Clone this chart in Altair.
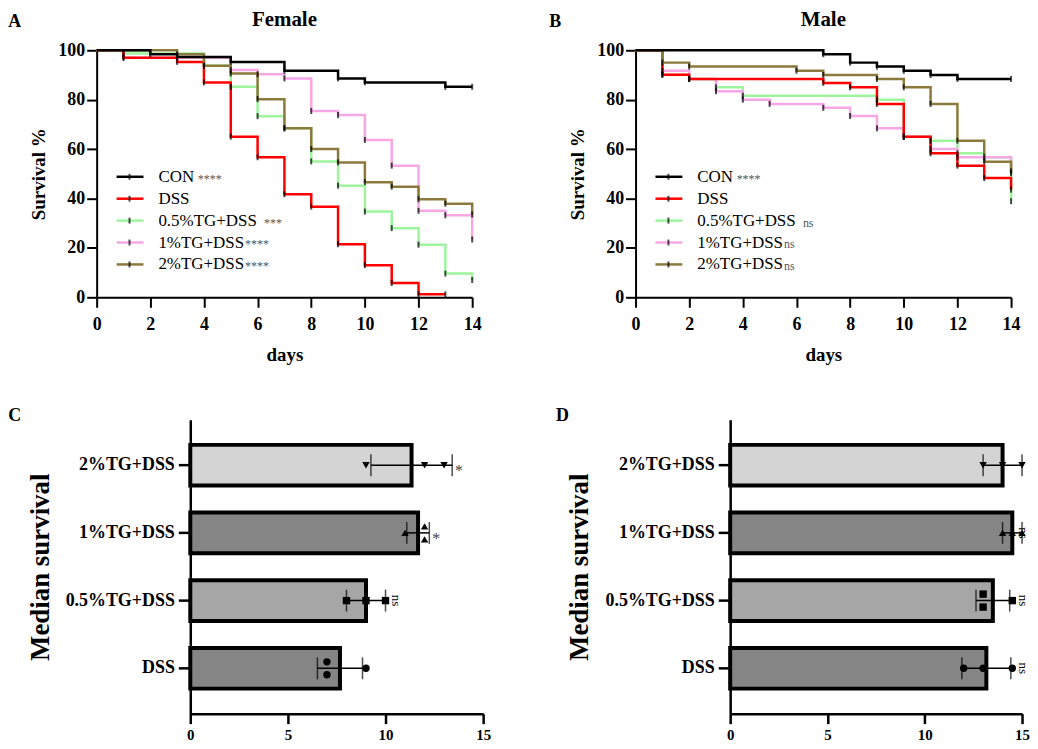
import altair as alt
import pandas as pd

FONT = "Liberation Serif"

# ---------------- survival curves (Kaplan-Meier) ----------------
groups = ["CON", "DSS", "0.5%TG+DSS", "1%TG+DSS", "2%TG+DSS"]
colors = ["#000000", "#ff0000", "#9ef59e", "#f7a6e6", "#8c7a3c"]
draw_order = ["0.5%TG+DSS", "1%TG+DSS", "DSS", "2%TG+DSS", "CON"]

female_stars = ["****", "", "***", "****", "****"]
male_stars = ["****", "", "ns", "ns", "ns"]

# Female
f_con_days = [0, 2, 3, 5, 7, 9, 10, 13, 14]
f_con_surv = [100, 98.4, 97.3, 95.3, 91.7, 88.6, 87, 85.2, 85.2]
f_dss_days = [0, 1, 3, 4, 5, 6, 7, 8, 9, 10, 11, 12, 13]
f_dss_surv = [100, 97, 95.3, 87, 65, 56.7, 41.7, 36.7, 21.5, 13, 5.8, 1.2, 1.2]
f_g05_days = [0, 1, 4, 5, 6, 7, 8, 9, 10, 11, 12, 13, 14]
f_g05_surv = [100, 98.7, 93.7, 85.2, 73.3, 68.4, 55, 45.2, 34.7, 28, 21.3, 9.6, 7]
f_g1_days = [0, 1, 5, 6, 7, 8, 9, 10, 11, 12, 13, 14]
f_g1_surv = [100, 97, 92, 90.3, 88.6, 75.4, 73.8, 63.7, 53.3, 35, 33.2, 23.4]
f_g2_days = [0, 3, 4, 5, 6, 7, 8, 9, 10, 11, 12, 13, 14]
f_g2_surv = [100, 98.4, 93.7, 90.6, 80.2, 68.4, 60, 54.6, 46.6, 44.8, 39.7, 37.9, 33.5]

# Male
m_con_days = [0, 7, 8, 9, 10, 11, 12, 14]
m_con_surv = [100, 98.4, 95, 93.4, 91.7, 90, 88.4, 88.4]
m_dss_days = [0, 1, 2, 7, 8, 9, 10, 11, 12, 13, 14]
m_dss_surv = [100, 90.1, 88.4, 86.8, 85, 78.3, 65, 58.3, 53.3, 48.3, 43.6]
m_g05_days = [0, 1, 2, 3, 4, 9, 10, 11, 12, 13, 14]
m_g05_surv = [100, 90.1, 88.4, 85, 81.6, 80, 65, 63.4, 58.3, 56.7, 38.9]
m_g1_days = [0, 1, 2, 3, 4, 5, 7, 8, 9, 10, 11, 12, 14]
m_g1_surv = [100, 91.7, 88.4, 83.4, 80, 78.3, 76.7, 73.4, 68.4, 65, 60, 56.7, 51]
m_g2_days = [0, 1, 2, 6, 7, 9, 10, 11, 12, 13, 14]
m_g2_surv = [100, 95, 93.4, 91.7, 90, 88.4, 85, 78.3, 63.4, 54.9, 50.3]

day_ticks = [0, 2, 4, 6, 8, 10, 12, 14]
surv_ticks = [0, 20, 40, 60, 80, 100]

# ---------------- median survival bars ----------------
bar_groups = ["2%TG+DSS", "1%TG+DSS", "0.5%TG+DSS", "DSS"]
bar_fills = ["#d4d4d4", "#858585", "#a6a6a6", "#858585"]
bar_shapes = ["triangle-down", "triangle-up", "square", "circle"]
median_ticks = [0, 5, 10, 15]

c_values = [[9, 12, 13], [11, 12, 12], [8, 9, 10], [7, 7, 9]]
c_sig = ["*", "*", "ns", ""]
d_values = [[13, 14, 15], [14, 14.5, 15], [13, 13, 14.5], [12, 13, 14.5]]
d_sig = ["", "ns", "ns", "ns"]

BAR_H = 295
PAD_IN, PAD_OUT = 0.4, 0.37


def long_df(series):
    rows = []
    for g, (ds, vs) in zip(groups, series):
        for d, v in zip(ds, vs):
            rows.append({"group": g, "day": d, "surv": v})
    return pd.DataFrame(rows)


color_scale = alt.Scale(domain=groups, range=colors)


def survival_panel(df, stars, title):
    xscale = alt.Scale(domain=[0, 14], nice=False)
    yscale = alt.Scale(domain=[0, 100], nice=False)
    xaxis = alt.Axis(values=day_ticks, title="days", grid=False,
                     tickSize=10, tickWidth=2, domainWidth=2,
                     domainColor="black", tickColor="black",
                     labelColor="black", labelFontSize=18, labelFontWeight="bold",
                     labelPadding=8, titleFontSize=19, titleFontWeight="bold",
                     titleColor="black", titlePadding=12, labelFlush=False)
    yaxis = alt.Axis(values=surv_ticks, title="Survival %", grid=False,
                     tickSize=10, tickWidth=2, domainWidth=2,
                     domainColor="black", tickColor="black",
                     labelColor="black", labelFontSize=18, labelFontWeight="bold",
                     labelPadding=2, titleFontSize=19, titleFontWeight="bold",
                     titleColor="black", titlePadding=9, labelFlush=False)
    base = alt.Chart(df)
    layers = []
    for g in draw_order:
        layers.append(
            base.transform_filter(alt.datum.group == g)
            .mark_line(interpolate="step-after", strokeWidth=2.5,
                       color=colors[groups.index(g)])
            .encode(x=alt.X("day:Q", scale=xscale, axis=xaxis),
                    y=alt.Y("surv:Q", scale=yscale, axis=yaxis))
        )
    layers.append(
        base.transform_filter(alt.datum.day > 0)
        .mark_tick(orient="vertical", size=6, thickness=2, color="black")
        .encode(x=alt.X("day:Q", scale=xscale, axis=xaxis),
                y=alt.Y("surv:Q", scale=yscale, axis=yaxis))
    )
    leg = pd.DataFrame({"name": groups, "star": stars, "i": list(range(len(groups)))})
    lbase = (alt.Chart(leg)
             .transform_calculate(ly="127 + datum.i * 22",
                                  xs="62 + 9.5 * length(datum.name) + 11"))
    ly = alt.Y("ly:Q", scale=None, axis=None)
    layers.append(
        lbase.mark_rule(strokeWidth=2.5)
        .encode(x=alt.value(20), x2=alt.value(47), y=ly,
                color=alt.Color("name:N", scale=color_scale, legend=None))
    )
    layers.append(
        lbase.mark_tick(orient="vertical", size=6, thickness=2, color="black")
        .encode(x=alt.value(33), y=ly)
    )
    layers.append(
        lbase.mark_text(align="left", baseline="middle", fontSize=17, color="black")
        .encode(x=alt.value(62), y=ly, text="name:N")
    )
    layers.append(
        lbase.mark_text(align="left", baseline="middle", fontSize=12, color="#555555", dy=2)
        .encode(x=alt.X("xs:Q", scale=None, axis=None), y=ly, text="star:N")
    )
    return alt.layer(*layers).properties(
        width=377, height=248,
        title=alt.TitleParams(title, fontSize=21, fontWeight="bold", color="black",
                              offset=-6, baseline="alphabetic"),
    )


def bar_df(values, sigs):
    rows = []
    for g, vs, s in zip(bar_groups, values, sigs):
        seen = {}
        for v in vs:
            seen[v] = seen.get(v, 0) + 1
        idx = {}
        for v in vs:
            n = seen[v]
            k = idx.get(v, 0)
            idx[v] = k + 1
            off = 0 if n == 1 else (k - (n - 1) / 2)
            rows.append({"group": g, "v": v, "off": off, "sig": s})
    return pd.DataFrame(rows)


def bar_panel(df, width, ns_expr, star_shift):
    step = BAR_H / (len(bar_groups) - PAD_IN + 2 * PAD_OUT)
    half = step * (1 - PAD_IN) / 2
    xscale = alt.Scale(domain=[0, 15], nice=False)
    xaxis = alt.Axis(values=median_ticks, title=None, grid=False,
                     tickSize=10, tickWidth=2.5, domainWidth=2.5,
                     domainColor="black", tickColor="black",
                     labelColor="black", labelFontSize=15, labelFontWeight="bold",
                     labelPadding=4, labelFlush=False)
    yaxis = alt.Axis(title="Median survival", grid=False,
                     tickSize=12, tickWidth=2.5, domainWidth=2.5,
                     domainColor="black", tickColor="black",
                     labelColor="black", labelFontSize=18, labelFontWeight="bold",
                     labelPadding=4, titleFontSize=27, titleFontWeight="bold",
                     titleColor="black", titlePadding=11)
    yenc = alt.Y("group:N", sort=bar_groups,
                 scale=alt.Scale(type="band", domain=bar_groups,
                                 paddingInner=PAD_IN, paddingOuter=PAD_OUT),
                 axis=yaxis)
    base = alt.Chart(df)
    bars = base.mark_bar(stroke="black", strokeWidth=4).encode(
        x=alt.X("mean(v):Q", scale=xscale, axis=xaxis),
        y=yenc,
        fill=alt.Fill("group:N", scale=alt.Scale(domain=bar_groups, range=bar_fills), legend=None),
    )
    stats = (base.transform_aggregate(m="mean(v)", sd="stdev(v)", groupby=["group", "sig"])
             .transform_calculate(lo="datum.m - datum.sd", hi="datum.m + datum.sd"))
    err = stats.mark_rule(strokeWidth=1.5, color="black").encode(
        x=alt.X("lo:Q", scale=xscale, axis=xaxis), x2="hi:Q", y=yenc)
    cap_lo = stats.mark_tick(orient="vertical", size=22, thickness=1.5, color="black").encode(
        x=alt.X("lo:Q", scale=xscale, axis=xaxis), y=yenc)
    cap_hi = stats.mark_tick(orient="vertical", size=22, thickness=1.5, color="black").encode(
        x=alt.X("hi:Q", scale=xscale, axis=xaxis), y=yenc)
    pts = base.mark_point(filled=True, size=55, color="black", opacity=1).encode(
        x=alt.X("v:Q", scale=xscale, axis=xaxis),
        y=yenc,
        yOffset=alt.YOffset("off:Q", scale=alt.Scale(domain=[-1, 1], range=[half - 13, half + 13])),
        shape=alt.Shape("group:N", scale=alt.Scale(domain=bar_groups, range=bar_shapes), legend=None),
    )
    star = (stats.transform_filter(alt.datum.sig == "*")
            .transform_calculate(xl=f"datum.hi + {star_shift}")
            .mark_text(fontSize=16, color="#444444", baseline="middle", align="center", dy=6)
            .encode(x=alt.X("xl:Q", scale=xscale, axis=xaxis), y=yenc, text="sig:N"))
    ns = (stats.transform_filter(alt.datum.sig == "ns")
          .transform_calculate(xl=ns_expr)
          .mark_text(fontSize=13, color="black", baseline="middle", align="center", angle=90)
          .encode(x=alt.X("xl:Q", scale=xscale, axis=xaxis), y=yenc, text="sig:N"))
    return (alt.layer(bars, err, cap_lo, cap_hi, pts, star, ns)
            .resolve_scale(yOffset="independent")
            .properties(width=width, height=BAR_H))


def spacer(w, h, letter, dx, offset):
    return alt.Chart(pd.DataFrame({"s": [0]})).mark_point(opacity=0).encode(
        x=alt.value(0), y=alt.value(0)
    ).properties(
        width=w, height=h,
        title=alt.TitleParams(letter, anchor="start", fontSize=18, fontWeight="bold",
                              color="black", offset=offset, dx=dx, baseline="alphabetic"),
    )


fem = long_df([(f_con_days, f_con_surv), (f_dss_days, f_dss_surv), (f_g05_days, f_g05_surv),
               (f_g1_days, f_g1_surv), (f_g2_days, f_g2_surv)])
mal = long_df([(m_con_days, m_con_surv), (m_dss_days, m_dss_surv), (m_g05_days, m_g05_surv),
               (m_g1_days, m_g1_surv), (m_g2_days, m_g2_surv)])

panelA = survival_panel(fem, female_stars, "Female")
panelB = survival_panel(mal, male_stars, "Male")
panelC = bar_panel(bar_df(c_values, c_sig), 294, "datum.hi + 0.53", 0.35)
panelD = bar_panel(bar_df(d_values, d_sig), 293, "min(datum.hi + 0.75, 15.03)", 0.35)

row1 = alt.hconcat(spacer(86, 248, "A", 0, 3), panelA, spacer(164, 248, "B", 80, 3), panelB,
                   spacing=0, bounds="flush")
row2 = alt.hconcat(spacer(180, BAR_H, "C", 0, -22), panelC, spacer(248, BAR_H, "D", 76, -22), panelD,
                   spacing=0, bounds="flush")

chart = alt.vconcat(row1, row2, spacing=371, bounds="flush").properties(
    padding={"left": 0, "top": 0, "right": 0, "bottom": 0}
).configure(font=FONT).configure_view(stroke=None)

chart.save("out.html", embed_options={"renderer": "svg", "actions": False})
